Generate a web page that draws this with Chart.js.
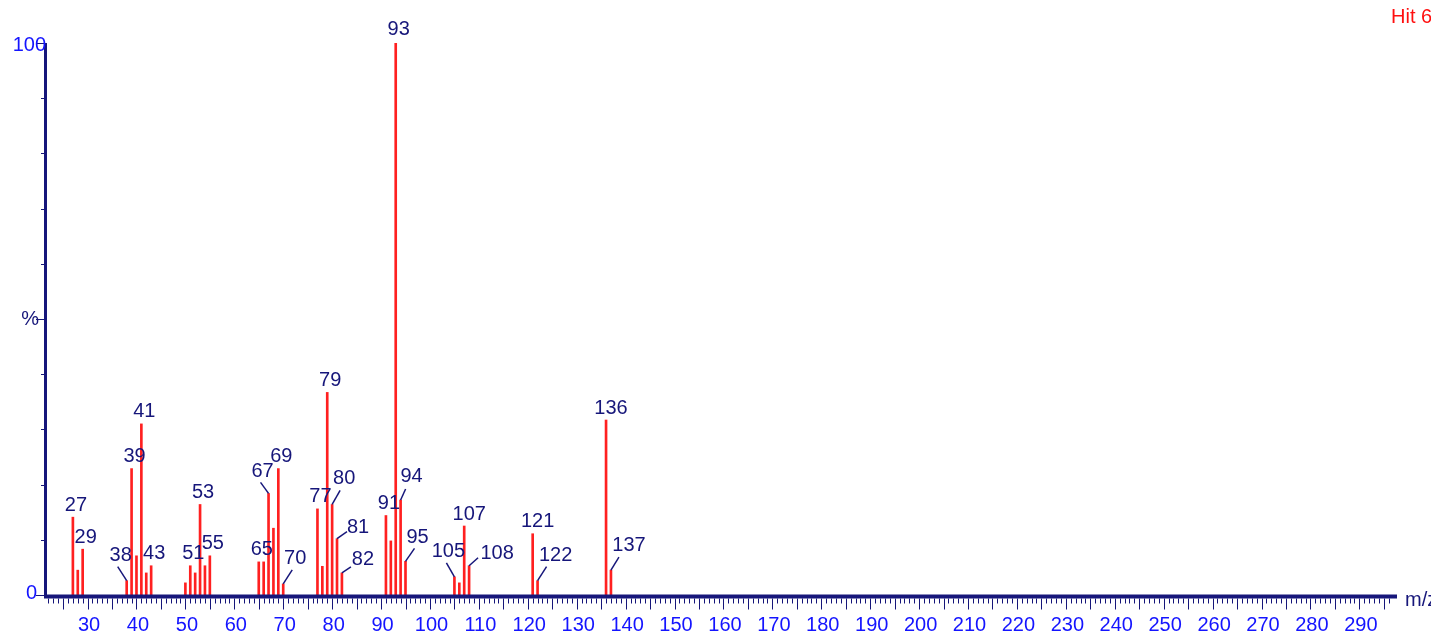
<!DOCTYPE html>
<html>
<head>
<meta charset="utf-8">
<script src="https://cdn.jsdelivr.net/npm/chart.js@4/dist/chart.umd.min.js"></script>
<style>
  html, body { margin: 0; padding: 0; background: #fff; }
  canvas { display: block; }
</style>
</head>
<body>
<canvas id="chart" width="1431" height="635"></canvas>
<script>
// mass spectrum: m/z and relative abundance (%)
const mz = [27, 28, 29, 38, 39, 40, 41, 42, 43, 50, 51, 52, 53, 54, 55,
    65, 66, 67, 68, 69, 70, 77, 78, 79, 80, 81, 82, 91, 92, 93, 94, 95,
    105, 106, 107, 108, 121, 122, 136, 137];
const intensity = [14.1, 4.5, 8.3, 2.6, 22.9, 7.1, 31.0, 4.0, 5.3, 2.2, 5.3, 4.0, 16.4, 5.3, 7.1,
    6.0, 6.0, 18.4, 12.1, 22.9, 2.0, 15.6, 5.2, 36.7, 16.4, 10.2, 4.0, 14.4, 9.8, 100, 17.2, 6.1,
    3.3, 2.2, 12.5, 5.3, 11.1, 2.6, 31.7, 4.5];

// peaks that carry an m/z label
const labelled = [27, 29, 38, 39, 41, 43, 51, 53, 55, 65, 67, 69, 70, 77, 79, 80, 81, 82,
    91, 93, 94, 95, 105, 107, 108, 121, 122, 136, 137];

const xTickLabels = [30, 40, 50, 60, 70, 80, 90, 100, 110, 120, 130, 140, 150, 160, 170, 180,
    190, 200, 210, 220, 230, 240, 250, 260, 270, 280, 290];

// label placement for crowded peaks: [dx, dy] from bar top, [ex, ey] leader end from label centre
const leaders = {
    38: [-6, -25, -3, 11],
    67: [-6, -22, -2, 11],
    70: [12, -25, -3, 11],
    80: [12, -26, -4, 12],
    81: [21, -11, -11, 4],
    82: [21, -13, -12, 7],
    94: [11, -24, -6, 13],
    95: [12, -24, -3, 11],
    105: [-6, -25, -2, 11],
    108: [28, -12, -19, 4],
    122: [18, -25, -9, 11],
    137: [18, -25, -10, 12]
};

const NAVY = '#16167a';
const BLUE = '#1414ff';
const FONT = '20px "Liberation Sans", Arial, sans-serif';

const axesPlugin = {
    id: 'msAxes',
    afterDatasetsDraw(chart) {
        const { ctx, chartArea: a, scales: { x, y } } = chart;
        ctx.save();
        ctx.fillStyle = NAVY;
        // axis lines
        ctx.fillRect(a.left - 1, y.getPixelForValue(100), 3, y.getPixelForValue(0) - y.getPixelForValue(100) + 3);
        ctx.fillRect(a.left - 1, y.getPixelForValue(0) - 0.5, a.right - a.left + 1, 4);

        // x ticks: every unit, longer every 5
        const base = y.getPixelForValue(0) + 3.5;
        ctx.strokeStyle = NAVY;
        ctx.lineWidth = 1;
        for (let m = Math.ceil(x.min); m <= Math.floor(x.max) - 1; m++) {
            const px = Math.round(x.getPixelForValue(m)) + 0.5;
            ctx.beginPath();
            ctx.moveTo(px, base);
            ctx.lineTo(px, base + (m % 5 === 0 ? 11 : 5));
            ctx.stroke();
        }

        // y ticks every 10 %
        for (let v = 0; v <= 100; v += 10) {
            const py = Math.round(y.getPixelForValue(v)) + 0.5;
            const len = v % 50 === 0 ? 9 : 4;
            ctx.beginPath();
            ctx.moveTo(a.left - len, py);
            ctx.lineTo(a.left, py);
            ctx.stroke();
        }

        ctx.font = FONT;
        ctx.textBaseline = 'alphabetic';
        ctx.textAlign = 'center';
        ctx.fillStyle = BLUE;
        xTickLabels.forEach(v => ctx.fillText(String(v), x.getPixelForValue(v) + 1.5, 631));

        ctx.textBaseline = 'middle';
        ctx.textAlign = 'right';
        ctx.fillText('100', a.left + 1, y.getPixelForValue(100) + 2);
        ctx.fillText('0', a.left - 8, y.getPixelForValue(0) - 2);
        ctx.fillStyle = NAVY;
        ctx.fillText('%', a.left - 6, y.getPixelForValue(50));

        ctx.textAlign = 'left';
        ctx.fillText('m/z', 1405, 600);

        ctx.fillStyle = '#ff1010';
        ctx.font = '20px "Liberation Sans", Arial, sans-serif';
        ctx.textBaseline = 'alphabetic';
        ctx.fillText('Hit 6', 1391, 23);
        ctx.restore();
    }
};

const peakLabelPlugin = {
    id: 'peakLabels',
    afterDatasetsDraw(chart) {
        const { ctx, scales: { x, y } } = chart;
        ctx.save();
        ctx.font = FONT;
        ctx.fillStyle = NAVY;
        ctx.strokeStyle = NAVY;
        ctx.lineWidth = 1.5;
        ctx.textAlign = 'center';
        ctx.textBaseline = 'middle';
        labelled.forEach(m => {
            const i = mz.indexOf(m);
            const bx = x.getPixelForValue(m);
            const by = y.getPixelForValue(intensity[i]);
            const txt = String(m);
            const lead = leaders[m];
            let dx = txt.length > 2 ? 5 : 3, dy = m === 93 ? -14 : -12;
            if (lead) {
                dx = lead[0];
                dy = lead[1];
                ctx.beginPath();
                ctx.moveTo(bx, by);
                ctx.lineTo(bx + dx + lead[2], by + dy + lead[3]);
                ctx.stroke();
            }
            ctx.fillText(txt, bx + dx, by + dy);
        });
        ctx.restore();
    }
};

new Chart(document.getElementById('chart'), {
    type: 'bar',
    data: {
        datasets: [{
            data: mz.map((m, i) => ({ x: m, y: intensity[i] })),
            backgroundColor: '#ff2020',
            barThickness: 2,
            grouped: false
        }]
    },
    options: {
        responsive: false,
        animation: false,
        layout: { padding: { left: 45, right: 34, top: 43, bottom: 40 } },
        scales: {
            x: { type: 'linear', min: 21.3, max: 297.7, offset: false, display: false },
            y: { min: 0, max: 100, display: false }
        },
        plugins: {
            legend: { display: false },
            tooltip: { enabled: false }
        }
    },
    plugins: [axesPlugin, peakLabelPlugin]
});
</script>
</body>
</html>
